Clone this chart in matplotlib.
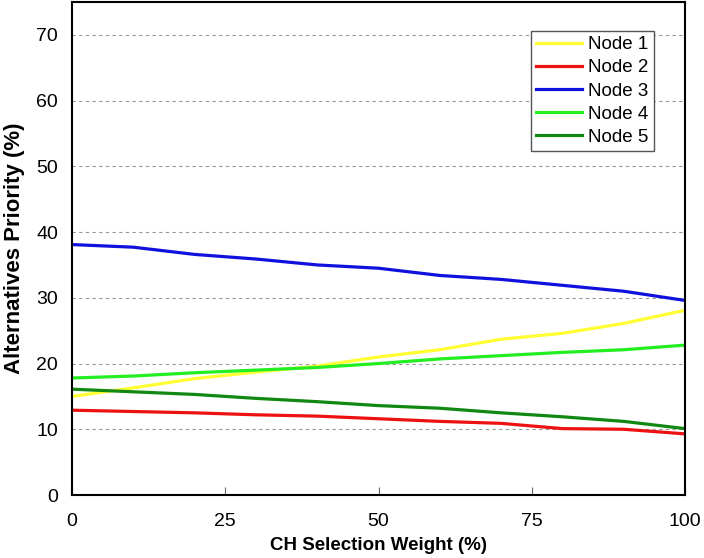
import numpy as np
from matplotlib import pyplot as plt

plt.rcParams["font.family"] = ["Liberation Sans", "DejaVu Sans"]

weight = [0, 10, 20, 30, 40, 50, 60, 70, 80, 90, 100]
node1 = [15.0, 16.3, 17.7, 18.7, 19.6, 21.0, 22.1, 23.7, 24.6, 26.1, 28.1]
node2 = [12.9, 12.7, 12.5, 12.2, 12.0, 11.6, 11.2, 10.9, 10.1, 10.0, 9.3]
node3 = [38.1, 37.7, 36.6, 35.9, 35.0, 34.5, 33.4, 32.8, 31.9, 31.0, 29.6]
node4 = [17.8, 18.1, 18.6, 19.0, 19.4, 20.0, 20.7, 21.2, 21.7, 22.1, 22.8]
node5 = [16.1, 15.7, 15.3, 14.7, 14.2, 13.6, 13.2, 12.5, 11.9, 11.2, 10.1]

labels = ["Node 1", "Node 2", "Node 3", "Node 4", "Node 5"]
colors = ["#ffff33", "#ee1111", "#1111dd", "#22ee22", "#118811"]
xticks = [0, 25, 50, 75, 100]
yticks = [0, 10, 20, 30, 40, 50, 60, 70]

fig = plt.figure(figsize=(7.04, 5.58), dpi=100)
ax = fig.add_axes([0.1023, 0.1129, 0.8707, 0.8835])

for vals, lab, col in zip([node1, node2, node3, node4, node5], labels, colors):
    ax.plot(weight, vals, color=col, linewidth=2.3, label=lab)

ax.set_xlim(0, 100)
ax.set_ylim(0, 75)
ax.set_xticks(xticks)
ax.set_yticks(yticks)
ax.tick_params(axis="x", direction="in", length=6, width=0.8, color="#666666",
               labelsize=14, pad=13)
ax.tick_params(axis="y", length=0, labelsize=14, pad=10)
for yv in yticks[1:]:
    ax.axhline(yv, color="#999999", linestyle=(0, (3, 3)), linewidth=0.8, zorder=0)
for sp in ax.spines.values():
    sp.set_linewidth(1.5)

ax.set_xlabel("CH Selection Weight (%)", fontsize=13.5, fontweight="bold", labelpad=5)
ax.set_ylabel("Alternatives Priority (%)", fontsize=16, fontweight="bold", labelpad=8)

leg = ax.legend(loc="upper left", bbox_to_anchor=(0.748, 0.942), fontsize=13.5,
                fancybox=False, framealpha=1, edgecolor="#555555",
                handlelength=2.45, handletextpad=0.3, labelspacing=0.32,
                borderpad=0.3, borderaxespad=0)
leg.get_frame().set_linewidth(1.0)

fig.savefig("out.png", dpi=100)
